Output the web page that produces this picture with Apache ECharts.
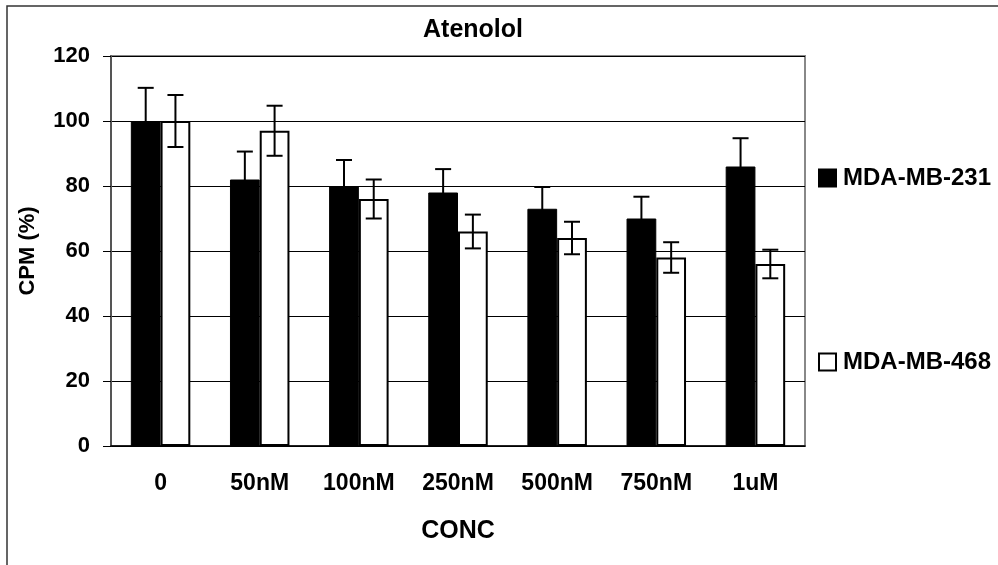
<!DOCTYPE html>
<html>
<head>
<meta charset="utf-8">
<script src="https://cdn.jsdelivr.net/npm/echarts@6/dist/echarts.min.js"></script>
<style>
  html, body { margin: 0; padding: 0; background: #fff; }
  #chart { width: 998px; height: 565px; }
</style>
</head>
<body>
<div id="chart"></div>
<script>
// Atenolol concentration response, CPM as % of control
const categories = ['0', '50nM', '100nM', '250nM', '500nM', '750nM', '1uM'];
const seriesNames = ['MDA-MB-231', 'MDA-MB-468'];
const mb231 = [100, 82, 80, 78, 73, 70, 86];
const mb231Err = [10.2, 8.6, 8, 7.2, 6.7, 6.7, 8.7];
const mb468 = [100, 97, 76, 66, 64, 58, 56];
const mb468Err = [8, 7.7, 6, 5.2, 5, 4.7, 4.4];
const yTicks = [0, 20, 40, 60, 80, 100, 120];

const FONT = '"Liberation Sans", Arial, sans-serif';
const CAT_GAP = 0.4; // fraction of band left empty around each bar pair

const chart = echarts.init(document.getElementById('chart'));

// error bar: vertical whisker with caps, shifted onto the left (side -1) or right (side +1) bar
function errorBarRenderer(side) {
  return function (params, api) {
    const idx = api.value(0);
    const lo = api.coord([idx, api.value(1)]);
    const hi = api.coord([idx, api.value(2)]);
    const band = api.size([1, 0])[0];
    const barW = band * (1 - CAT_GAP) / 2;
    const x = lo[0] + side * barW / 2;
    const cap = 8;
    const style = { stroke: '#000', lineWidth: 2 };
    return {
      type: 'group',
      children: [
        { type: 'line', shape: { x1: x, y1: hi[1], x2: x, y2: lo[1] }, style },
        { type: 'line', shape: { x1: x - cap, y1: hi[1], x2: x + cap, y2: hi[1] }, style },
        { type: 'line', shape: { x1: x - cap, y1: lo[1], x2: x + cap, y2: lo[1] }, style }
      ]
    };
  };
}

function errData(vals, errs) {
  return vals.map((v, i) => [i, v - errs[i], v + errs[i]]);
}

chart.setOption({
  animation: false,
  backgroundColor: '#fff',
  textStyle: { fontFamily: FONT, fontWeight: 'bold', color: '#000' },
  title: {
    text: 'Atenolol',
    left: 468,
    top: 13,
    textAlign: 'center',
    textStyle: { fontFamily: FONT, fontSize: 25, fontWeight: 'bold', color: '#000' }
  },
  graphic: [{
    type: 'rect',
    shape: { x: 7, y: 6, width: 1200, height: 800 },
    style: { fill: 'none', stroke: '#333', lineWidth: 1.5 },
    silent: true,
    z: 100
  }],
  legend: {
    orient: 'vertical',
    left: 818,
    top: 166,
    padding: 0,
    itemWidth: 17,
    itemHeight: 17,
    itemGap: 160,
    icon: 'rect',
    selectedMode: false,
    data: seriesNames,
    textStyle: { fontFamily: FONT, fontSize: 24, fontWeight: 'bold', color: '#000', padding: [0, 0, 0, 2] }
  },
  grid: {
    left: 111, right: 193, top: 56, bottom: 119,
    show: true, borderColor: '#888', borderWidth: 2, backgroundColor: '#fff'
  },
  xAxis: {
    type: 'category',
    data: categories,
    name: 'CONC',
    nameLocation: 'middle',
    nameGap: 73,
    nameTextStyle: { fontFamily: FONT, fontSize: 25, fontWeight: 'bold', color: '#000' },
    axisLine: { lineStyle: { color: '#000', width: 1.5 } },
    axisTick: { length: 8, lineStyle: { color: '#888', width: 2 } },
    axisLabel: { margin: 26, fontFamily: FONT, fontSize: 23, fontWeight: 'bold', color: '#000' }
  },
  yAxis: {
    type: 'value',
    min: yTicks[0],
    max: yTicks[yTicks.length - 1],
    interval: yTicks[1] - yTicks[0],
    name: 'CPM (%)',
    nameLocation: 'middle',
    nameGap: 72,
    nameTextStyle: { fontFamily: FONT, fontSize: 22, fontWeight: 'bold', color: '#000' },
    axisLine: { show: true, lineStyle: { color: '#555', width: 2 } },
    axisTick: { show: true, length: 8, lineStyle: { color: '#000', width: 1 } },
    axisLabel: { margin: 21, fontFamily: FONT, fontSize: 22, fontWeight: 'bold', color: '#000' },
    splitLine: { show: true, lineStyle: { color: '#000', width: 1 } }
  },
  series: [
    {
      name: seriesNames[0],
      type: 'bar',
      data: mb231,
      barGap: '0%',
      barCategoryGap: (CAT_GAP * 100) + '%',
      itemStyle: { color: '#000', borderColor: '#000', borderWidth: 1 }
    },
    {
      name: seriesNames[1],
      type: 'bar',
      data: mb468,
      barGap: '0%',
      barCategoryGap: (CAT_GAP * 100) + '%',
      itemStyle: { color: '#fff', borderColor: '#000', borderWidth: 2 }
    },
    {
      type: 'custom',
      renderItem: errorBarRenderer(-1),
      data: errData(mb231, mb231Err),
      encode: { x: 0, y: [1, 2] },
      z: 10,
      silent: true
    },
    {
      type: 'custom',
      renderItem: errorBarRenderer(1),
      data: errData(mb468, mb468Err),
      encode: { x: 0, y: [1, 2] },
      z: 10,
      silent: true
    }
  ]
});
</script>
</body>
</html>
